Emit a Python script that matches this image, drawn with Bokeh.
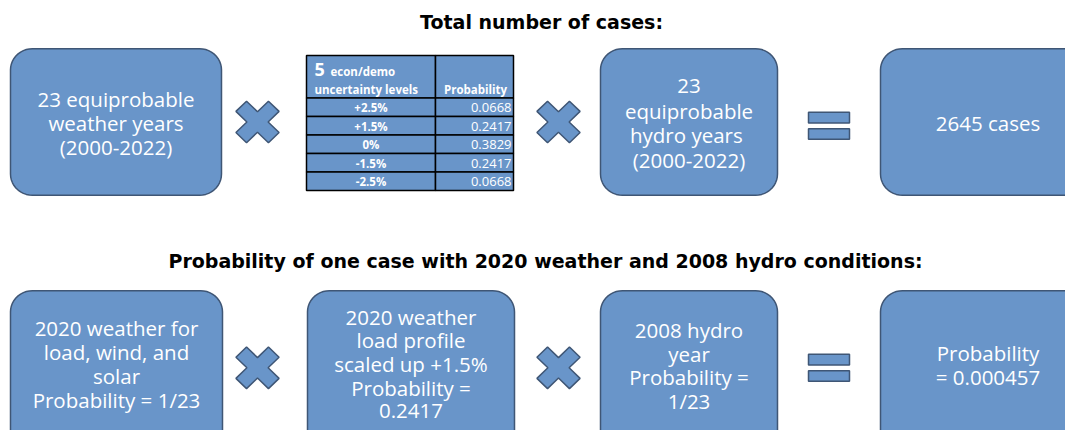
import numpy as np
from bokeh.plotting import figure
from bokeh.models import Range1d
from bokeh.core.properties import value
from bokeh.embed import file_html
from bokeh.resources import INLINE

# ---- content ----
titles = ["Total number of cases:",
          "Probability of one case with 2020 weather and 2008 hydro conditions:"]
top_box_texts = [["23 equiprobable", "weather years", "(2000-2022)"],
                 ["23", "equiprobable", " hydro years", "(2000-2022)"],
                 ["2645 cases"]]
bottom_box_texts = [["2020 weather for", "load, wind, and", "solar", "Probability = 1/23"],
                    ["2020 weather", "load profile", "scaled up +1.5%", "Probability =", "0.2417"],
                    ["2008 hydro", "year", "Probability =", "1/23"],
                    ["Probability", "= 0.000457"]]
table_header_num = "5"
table_header_a = ["econ/demo", "uncertainty levels"]
table_header_b = "Probability"
levels = ["+2.5%", "+1.5%", "0%", "-1.5%", "-2.5%"]
probabilities = [0.0668, 0.2417, 0.3829, 0.2417, 0.0668]

# ---- style / layout ----
FILL = "#6995C9"
EDGE = "#3F5675"
FONT = "Open Sans"
TFONT = "DejaVu Sans"
W, H = 1065, 430

# layout coordinates follow the reference's 1081x446 frame, compressed vertically to fit
p = figure(width=W, height=H, x_range=Range1d(0, W), y_range=Range1d(446, 0),
           output_backend="svg", toolbar_location=None, min_border=0)
p.axis.visible = False
p.grid.visible = False
p.outline_line_color = None
p.background_fill_color = "white"


def rounded(x0, x1, y0, y1, r, n=12):
    xs, ys = [], []
    corners = [(x1 - r, y0 + r, -np.pi / 2, 0), (x1 - r, y1 - r, 0, np.pi / 2),
               (x0 + r, y1 - r, np.pi / 2, np.pi), (x0 + r, y0 + r, np.pi, 1.5 * np.pi)]
    for cx, cy, a0, a1 in corners:
        t = np.linspace(a0, a1, n)
        xs += list(cx + r * np.cos(t))
        ys += list(cy + r * np.sin(t))
    return xs, ys


def cross(cx, cy, w=7.5, L=23):
    pts = [(w, L), (w, w), (L, w), (L, -w), (w, -w), (w, -L), (-w, -L), (-w, -w),
           (-L, -w), (-L, w), (-w, w), (-w, L)]
    c = np.cos(np.pi / 4)
    xs = [cx + (a - b) * c for a, b in pts]
    ys = [cy + (a + b) * c for a, b in pts]
    return xs, ys


def box_with_text(x0, x1, y0, y1, lines, cy, size="20.5px", spacing=24.8):
    bx, by = rounded(x0, x1, y0, y1, 22)
    p.patch(bx, by, fill_color=FILL, line_color=EDGE, line_width=1.5)
    n = len(lines)
    ys = [cy + spacing * (i - (n - 1) / 2) for i in range(n)]
    p.text(x=[(x0 + x1) / 2] * n, y=ys, text=lines, text_font=value(FONT),
           text_font_size=size, text_color="white", text_align="center",
           text_baseline="middle")


def equals(x0, x1, ytop):
    p.quad(left=[x0, x0], right=[x1, x1], top=[ytop, ytop + 17], bottom=[ytop + 11, ytop + 28],
           fill_color=FILL, line_color=EDGE, line_width=1.5)


def mult(cx, cy):
    xs, ys = cross(cx, cy)
    p.patch(xs, ys, fill_color=FILL, line_color=EDGE, line_width=1.5)


# titles
p.text(x=[541, 545], y=[22, 270], text=titles, text_font=value(TFONT), text_font_size="19px",
       text_font_style="bold", text_color="black", text_align="center", text_baseline="middle")

# top row
box_with_text(10, 221, 50, 202, top_box_texts[0], 127)
mult(257, 126)
mult(558, 126)
box_with_text(600, 777, 50, 202, top_box_texts[1], 127, spacing=25.5)
equals(808, 849, 116)
box_with_text(880, 1095, 50, 202, top_box_texts[2], 127)

# table
tx0, tx1, tdiv = 306, 513, 435
ty0, thead = 57, 101
rh = 19.2
row_tops = [thead + i * rh for i in range(len(levels))]
p.quad(left=[tx0, tdiv], right=[tdiv, tx1], top=[ty0, ty0], bottom=[thead, thead],
       fill_color=FILL, line_color="black", line_width=1.5)
p.quad(left=[tx0] * len(levels), right=[tdiv] * len(levels), top=row_tops,
       bottom=[t + rh for t in row_tops], fill_color=FILL, line_color="black", line_width=1.5)
p.quad(left=[tdiv] * len(levels), right=[tx1] * len(levels), top=row_tops,
       bottom=[t + rh for t in row_tops], fill_color=FILL, line_color="black", line_width=1.5)
p.text(x=[314], y=[72], text=[table_header_num], text_font=value("Open Sans"),
       text_font_size="18px", text_font_style="bold", text_color="white",
       text_align="left", text_baseline="middle")
p.text(x=[330, 314], y=[74, 92], text=table_header_a, text_font=value("Open Sans"),
       text_font_size="11.5px", text_font_style="bold", text_color="white",
       text_align="left", text_baseline="middle")
p.text(x=[475], y=[92], text=[table_header_b], text_font=value("Open Sans"),
       text_font_size="11.5px", text_font_style="bold", text_color="white",
       text_align="center", text_baseline="middle")
mids = [t + rh / 2 + 0.5 for t in row_tops]
p.text(x=[(tx0 + tdiv) / 2] * len(levels), y=mids, text=levels, text_font=value("Open Sans"),
       text_font_size="11.5px", text_font_style="bold", text_color="white",
       text_align="center", text_baseline="middle")
p.text(x=[tx1 - 2] * len(levels), y=mids, text=[f"{v:.4f}" for v in probabilities],
       text_font=value("Open Sans"), text_font_size="13px", text_color="white",
       text_align="right", text_baseline="middle")

# bottom row
box_with_text(10, 222, 301, 480, bottom_box_texts[0], 377)
mult(257, 381)
box_with_text(307, 514, 301, 480, bottom_box_texts[1], 377, spacing=24.6)
mult(558, 381)
box_with_text(600, 777, 301, 480, bottom_box_texts[2], 378.5, spacing=24.5)
equals(808, 849, 367)
box_with_text(880, 1095, 301, 480, bottom_box_texts[3], 378)

open("out.html", "w").write(file_html(p, INLINE))
